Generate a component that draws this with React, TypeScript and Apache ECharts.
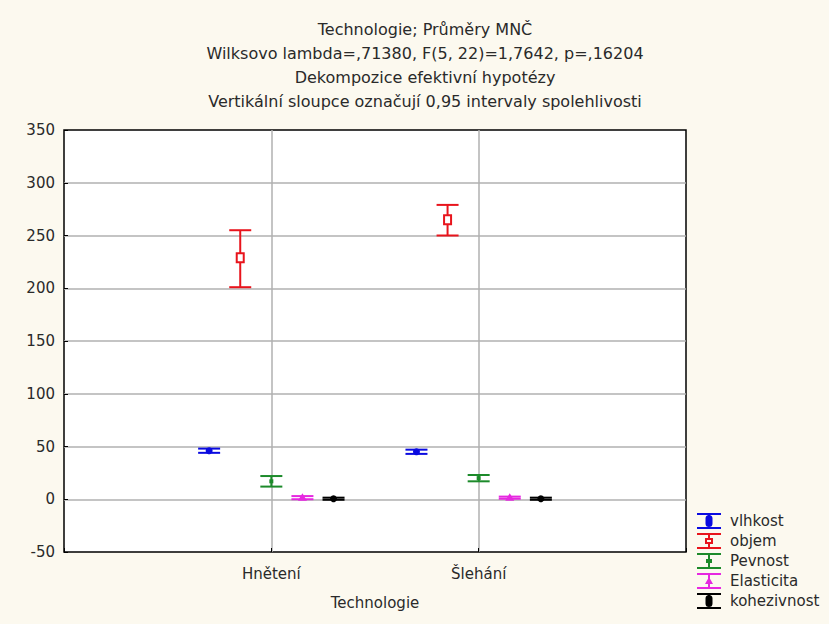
import React, { useEffect, useRef } from "react";
import * as echarts from "echarts";

const titleLines = [
  "Technologie; Průměry MNČ",
  "Wilksovo lambda=,71380, F(5, 22)=1,7642, p=,16204",
  "Dekompozice efektivní hypotézy",
  "Vertikální sloupce označují 0,95 intervaly spolehlivosti",
];
const categories = ["Hnětení", "Šlehání"];
const xAxisName = "Technologie";
const yTicks = { min: -50, max: 350, interval: 50 };

const seriesNames = ["vlhkost", "objem", "Pevnost", "Elasticita", "kohezivnost"];
const means = [
  [46, 45],
  [229, 265],
  [17, 20],
  [1.5, 1.5],
  [0.5, 0.5],
];
const lows = [
  [44, 43],
  [201, 250],
  [12, 17],
  [0, 0.5],
  [-0.5, -0.5],
];
const highs = [
  [48, 47],
  [255, 279],
  [22, 23],
  [3, 2.5],
  [1.5, 1.5],
];

const colors = ["#0a0ae0", "#e8141c", "#1c8a2a", "#e628e0", "#000000"];
const markerKinds = ["circle", "openSquare", "bar", "triangle", "circle"];
const offsets = [-0.3, -0.15, 0, 0.15, 0.3];

const FONT = "DejaVu Sans, Verdana, sans-serif";
const TEXT_COLOR = "#2a2a2a";
const FS = 15;

const legendIcons = [
  "path://M0,0H24V2H0ZM11,2H13V14H11ZM0,14H24V16H0ZM8.5,5.5A3.5,3.5 0 1,1 15.5,5.5V10.5A3.5,3.5 0 1,1 8.5,10.5Z",
  "path://M0,0H24V2H0ZM11,2H13V5H11ZM11,11H13V14H11ZM0,14H24V16H0ZM8,5H16V11H8ZM10,7V9H14V7Z",
  "path://M0,0H24V2H0ZM11,2H13V14H11ZM0,14H24V16H0ZM9,6H15V10H9Z",
  "path://M0,0H24V2H0ZM11,2H13V14H11ZM0,14H24V16H0ZM12,4L16,11H8Z",
  "path://M0,0H24V2H0ZM11,2H13V14H11ZM0,14H24V16H0ZM8.5,5.5A3.5,3.5 0 1,1 15.5,5.5V10.5A3.5,3.5 0 1,1 8.5,10.5Z",
];

export default function App() {
  const ref = useRef<HTMLDivElement>(null);
  useEffect(() => {
    if (!ref.current) return;
    const chart = echarts.init(ref.current, undefined, { renderer: "svg" });

    const series = seriesNames.map((name, si) => ({
      name,
      type: "custom" as const,
      itemStyle: { color: colors[si] },
      data: categories.map((_, ci) => [ci + 1 + offsets[si], means[si][ci], lows[si][ci], highs[si][ci]]),
      renderItem: (params: any, api: any) => {
        const x = api.value(0);
        const pMean = api.coord([x, api.value(1)]);
        const pLow = api.coord([x, api.value(2)]);
        const pHigh = api.coord([x, api.value(3)]);
        const c = colors[si];
        const capW = 11;
        const lineStyle = { stroke: c, lineWidth: 2 };
        const children: any[] = [
          { type: "line", shape: { x1: pLow[0], y1: pLow[1], x2: pHigh[0], y2: pHigh[1] }, style: lineStyle },
          { type: "line", shape: { x1: pLow[0] - capW, y1: pLow[1], x2: pLow[0] + capW, y2: pLow[1] }, style: lineStyle },
          { type: "line", shape: { x1: pHigh[0] - capW, y1: pHigh[1], x2: pHigh[0] + capW, y2: pHigh[1] }, style: lineStyle },
        ];
        const k = markerKinds[si];
        if (k === "circle") {
          children.push({ type: "circle", shape: { cx: pMean[0], cy: pMean[1], r: 3.5 }, style: { fill: c } });
        } else if (k === "openSquare") {
          children.push({
            type: "rect",
            shape: { x: pMean[0] - 3.5, y: pMean[1] - 4.5, width: 7, height: 9 },
            style: { fill: "#fff", stroke: c, lineWidth: 2 },
          });
        } else if (k === "triangle") {
          children.push({
            type: "polygon",
            shape: { points: [[pMean[0], pMean[1] - 4.5], [pMean[0] + 4.5, pMean[1] + 3], [pMean[0] - 4.5, pMean[1] + 3]] },
            style: { fill: c },
          });
        } else {
          children.push({ type: "rect", shape: { x: pMean[0] - 2, y: pMean[1] - 2, width: 4, height: 4 }, style: { fill: c } });
        }
        return { type: "group", children };
      },
    }));

    chart.setOption({
      animation: false,
      backgroundColor: "#fcf9ef",
      textStyle: { fontFamily: FONT },
      graphic: titleLines.map((t, i) => ({
        type: "text",
        x: 425,
        y: 29 + i * 24,
        style: {
          text: t,
          fontFamily: FONT,
          fontSize: 16,
          fill: TEXT_COLOR,
          textAlign: "center",
          textVerticalAlign: "middle",
        },
      })),
      grid: {
        left: 64,
        right: 143,
        top: 130,
        bottom: 72,
        show: true,
        backgroundColor: "#ffffff",
        borderColor: "#000",
        borderWidth: 1.5,
      },
      legend: {
        orient: "vertical",
        left: 697,
        top: 513,
        itemWidth: 26,
        itemHeight: 16,
        itemGap: 4,
        padding: 0,
        textStyle: { fontFamily: FONT, fontSize: FS, color: TEXT_COLOR, padding: [0, 0, 0, 3] },
        data: seriesNames.map((name, i) => ({ name, icon: legendIcons[i] })),
      },
      xAxis: {
        type: "value",
        min: 0,
        max: 3,
        interval: 1,
        name: xAxisName,
        nameLocation: "middle",
        nameGap: 43,
        nameTextStyle: { fontFamily: FONT, fontSize: FS, color: TEXT_COLOR },
        axisLine: { show: false, onZero: false },
        axisTick: { show: true, inside: true, length: 4, lineStyle: { color: "#000" } },
        axisLabel: {
          fontFamily: FONT,
          fontSize: FS,
          color: TEXT_COLOR,
          margin: 14,
          formatter: (v: number) => (v >= 1 && v <= categories.length ? categories[v - 1] : ""),
        },
        splitLine: { show: true, showMinLine: false, showMaxLine: false, lineStyle: { color: "#b0b0b0", width: 1.5 } },
      },
      yAxis: {
        type: "value",
        min: yTicks.min,
        max: yTicks.max,
        interval: yTicks.interval,
        axisLine: { show: false },
        axisTick: { show: true, inside: true, length: 4, lineStyle: { color: "#000" } },
        axisLabel: { fontFamily: FONT, fontSize: FS, color: TEXT_COLOR, margin: 9 },
        splitLine: { show: true, showMinLine: false, showMaxLine: false, lineStyle: { color: "#b0b0b0", width: 1.5 } },
      },
      series,
    });
    return () => chart.dispose();
  }, []);
  return (
    <div
      ref={ref}
      style={{ position: "fixed", left: 0, top: 0, width: 829, height: 624 }}
    />
  );
}
